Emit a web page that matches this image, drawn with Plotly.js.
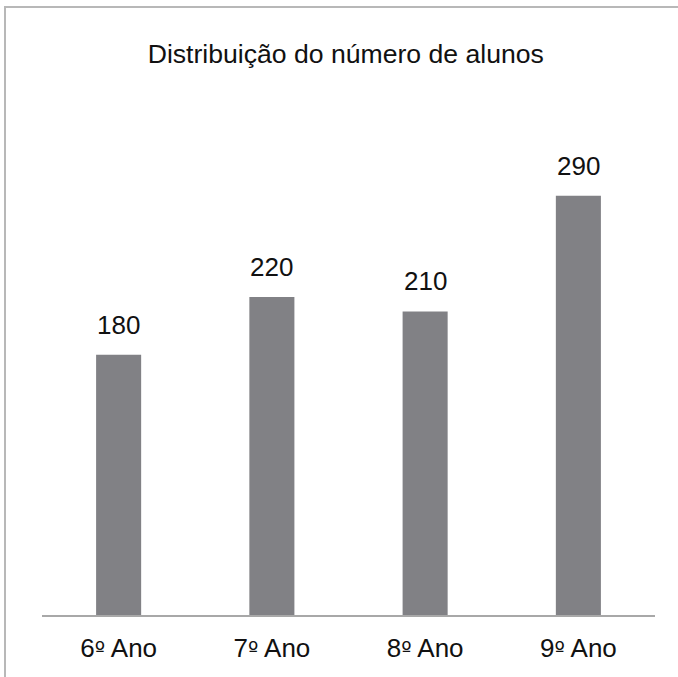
<!DOCTYPE html>
<html>
<head>
<meta charset="utf-8">
<script src="https://cdn.plot.ly/plotly-3.0.1.min.js"></script>
<style>
  html, body { margin: 0; padding: 0; background: #fff; overflow: hidden; }
  #chart { position: absolute; left: 0; top: 0; width: 678px; height: 677px; }
  #frame { position: absolute; left: 4px; top: 6px; width: 800px; height: 800px;
           border-left: 2px solid #b8b8b8; border-top: 2px solid #b8b8b8; pointer-events: none; }
</style>
</head>
<body>
<div id="chart"></div>
<div id="frame"></div>
<script>
const categories = ["6º Ano", "7º Ano", "8º Ano", "9º Ano"];
const values = [180, 220, 210, 290];
const chartTitle = "Distribuição do número de alunos";

const font = "Liberation Sans, Arial, sans-serif";

// tick labels: render the ordinal indicator with a font whose glyph is underlined
const tickLabels = categories.map(c =>
  c.replace("º", '<span style="font-family:DejaVu Sans;font-size:22px">º</span>'));

const trace = {
  type: "bar",
  x: categories,
  y: values,
  marker: { color: "#818185" },
  hoverinfo: "x+y"
};

const annotations = categories.map((c, i) => ({
  x: c, y: values[i], xref: "x", yref: "y",
  text: String(values[i]), showarrow: false,
  yanchor: "bottom", yshift: 13,
  font: { family: font, size: 26, color: "#111" }
}));

const layout = {
  width: 678, height: 677,
  margin: { l: 42, r: 23, t: 39, b: 62 },
  paper_bgcolor: "#fff", plot_bgcolor: "#fff",
  bargap: 0.706,
  showlegend: false,
  title: {
    text: chartTitle,
    font: { family: font, size: 26.6, color: "#111" },
    x: 0.51, xanchor: "center",
    y: 0.921, yref: "container", yanchor: "middle"
  },
  xaxis: {
    type: "category",
    showline: true, linecolor: "#a8a8a8", linewidth: 2,
    ticks: "", showgrid: false, zeroline: false,
    tickmode: "array", tickvals: categories, ticktext: tickLabels,
    tickfont: { family: font, size: 26, color: "#111" },
    ticklabelstandoff: 9
  },
  yaxis: {
    range: [0, 398.4],
    showticklabels: false, showgrid: false, zeroline: false, showline: false, ticks: ""
  },
  annotations: annotations
};

Plotly.newPlot("chart", [trace], layout, { displayModeBar: false, staticPlot: true });
</script>
</body>
</html>
